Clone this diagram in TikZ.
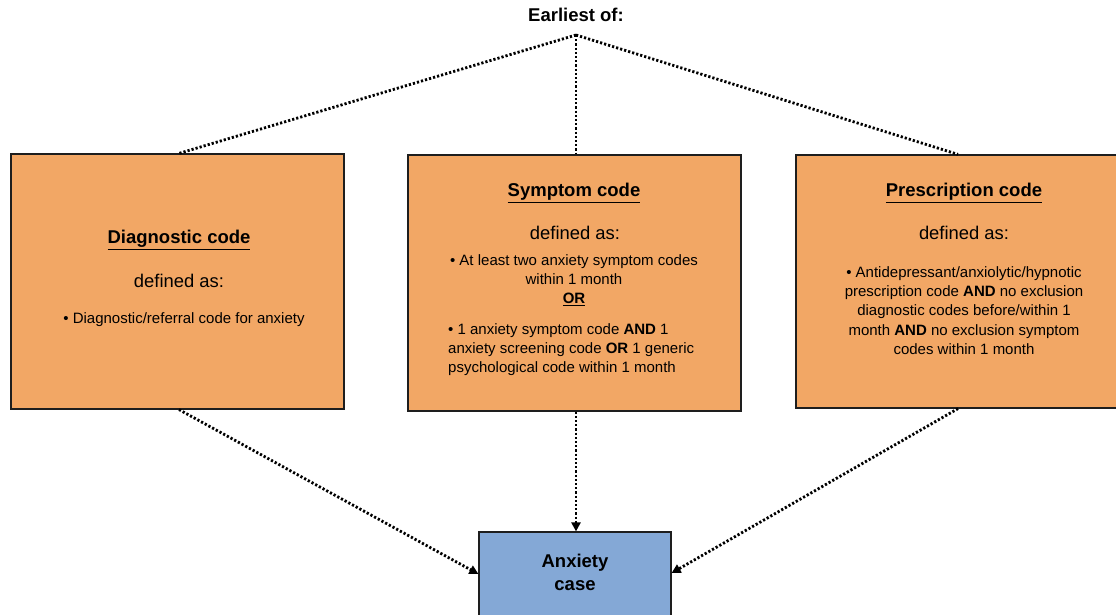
\documentclass[tikz,border=0pt]{standalone}
\usepackage{fontspec}
\setmainfont{Liberation Sans}
\usetikzlibrary{arrows.meta}
\definecolor{boxorange}{RGB}{242,167,101}
\definecolor{boxblue}{RGB}{132,168,214}
\definecolor{edgegray}{RGB}{30,30,30}
\tikzset{
  obox/.style={draw=edgegray, line width=1.2pt, fill=boxorange, rectangle, inner sep=0pt},
  bbox/.style={draw=edgegray, line width=1.2pt, fill=boxblue, rectangle, inner sep=0pt},
  titletext/.style={font=\fontsize{18.5}{22}\selectfont\bfseries, inner sep=0pt, align=center},
  deftext/.style={font=\fontsize{18.4}{22}\selectfont, inner sep=0pt},
  bodytext/.style={font=\fontsize{15}{19.2}\selectfont, inner sep=0pt},
  dotline/.style={line width=2.8pt, dash pattern=on 2.2pt off 2pt, draw=black},
  dotarrow/.style={dotline, -{Triangle[length=9pt,width=9pt]}}
}
\begin{document}
\begin{tikzpicture}[x=1pt,y=-1pt]
\useasboundingbox (0,0) rectangle (1116,615);
\clip (0,0) rectangle (1116,615);
% title and apex
\node[titletext] (earliest) at (576,15) {Earliest of:};
\coordinate (apex) at (576,35);
% boxes
\node[obox, minimum width=333pt, minimum height=255pt] (diag) at (177.5,281.5) {};
\node[obox, minimum width=333pt, minimum height=256pt] (symp) at (574.5,283) {};
\node[obox, minimum width=330pt, minimum height=253pt] (pres) at (961,281.5) {};
\node[bbox, minimum width=192pt, minimum height=100pt] (case) at (575,582) {};
% diagnostic text
\node[titletext] (diagtitle) at (179,240) {\underline{Diagnostic code}};
\node[deftext] (diagdef) at (179,281) {defined as:};
\node[bodytext] (diagbody) at (184,320) {\textbullet\ Diagnostic/referral code for anxiety};
% symptom text
\node[titletext] (symptitle) at (574,193) {\underline{Symptom code}};
\node[deftext] (sympdef) at (575,233) {defined as:};
\node[bodytext, align=center] (sympa) at (574,270) {\textbullet\ At least two anxiety symptom codes\\within 1 month};
\node[bodytext, font=\fontsize{15}{19.2}\selectfont\bfseries] (sympor) at (574,299) {\underline{OR}};
\node[bodytext, align=left, anchor=west] (sympb) at (448,349.5) {\textbullet\ 1 anxiety symptom code \textbf{AND} 1\\anxiety screening code \textbf{OR} 1 generic\\psychological code within 1 month};
% prescription text
\node[titletext] (prestitle) at (964,193) {\underline{Prescription code}};
\node[deftext] (presdef) at (964,233) {defined as:};
\node[bodytext, align=center] (presbody) at (964,310.5) {\textbullet\ Antidepressant/anxiolytic/hypnotic\\prescription code \textbf{AND} no exclusion\\diagnostic codes before/within 1\\month \textbf{AND} no exclusion symptom\\codes within 1 month};
% case text
\node[titletext, font=\fontsize{18.5}{23}\selectfont\bfseries] (casetext) at (575,572) {Anxiety\\case};
% connectors top
\draw[dotline] (apex) -- (diag.north -| 179,0);
\draw[dotline] (apex) -- (symp.north -| apex);
\draw[dotline] (apex) -- (pres.north -| 958,0);
% connectors bottom
\draw[dotarrow] (diag.south -| 179,0) -- (case.west |- 0,574);
\draw[dotarrow] (symp.south -| 576,0) -- (case.north -| 576,0);
\draw[dotarrow] (pres.south -| 958,0) -- (case.east |- 0,573);
\end{tikzpicture}
\end{document}
